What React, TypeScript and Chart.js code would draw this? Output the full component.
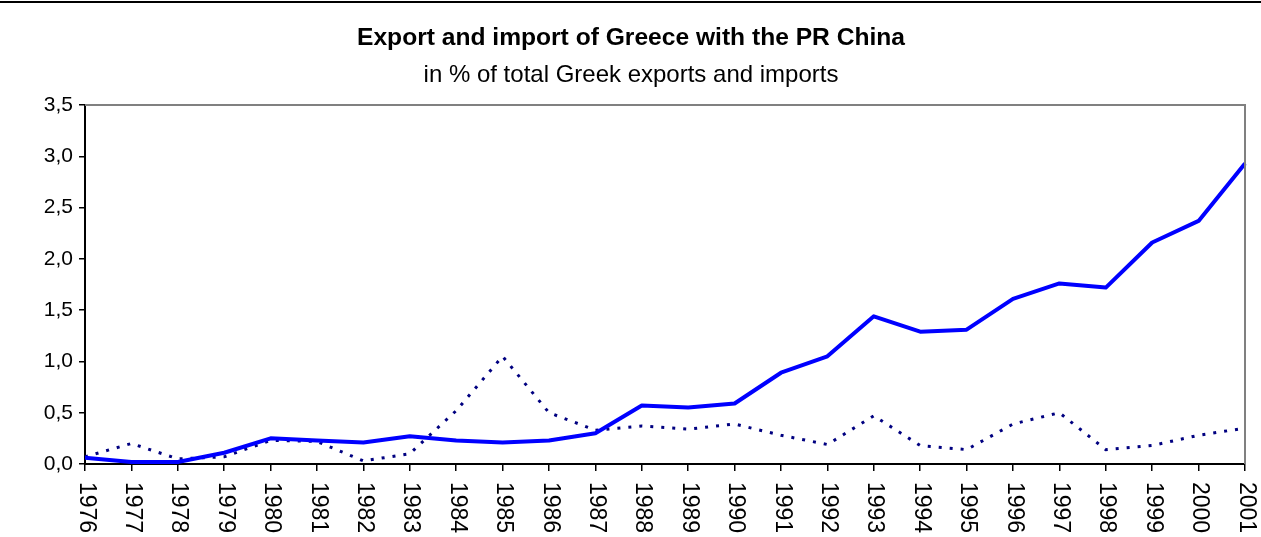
import React, { useEffect, useRef } from "react";
import { Chart, registerables } from "chart.js";

Chart.register(...registerables);

const TITLE = "Export and import of Greece with the PR China";
const SUBTITLE = "in % of total Greek exports and imports";

const YEARS = [
  "1976", "1977", "1978", "1979", "1980", "1981", "1982", "1983", "1984",
  "1985", "1986", "1987", "1988", "1989", "1990", "1991", "1992", "1993",
  "1994", "1995", "1996", "1997", "1998", "1999", "2000", "2001",
];

// Solid line (imports from PR China, % of total Greek imports)
const IMPORTS = [
  0.06, 0.02, 0.02, 0.11, 0.25, 0.23, 0.21, 0.27, 0.23, 0.21, 0.23, 0.3, 0.57,
  0.55, 0.59, 0.89, 1.05, 1.44, 1.29, 1.31, 1.61, 1.76, 1.72, 2.16, 2.37, 2.93,
];

// Dotted line (exports to PR China, % of total Greek exports)
const EXPORTS = [
  0.07, 0.2, 0.05, 0.07, 0.23, 0.22, 0.03, 0.1, 0.52, 1.05, 0.5, 0.33, 0.37,
  0.34, 0.39, 0.28, 0.19, 0.47, 0.18, 0.14, 0.39, 0.5, 0.14, 0.18, 0.28, 0.35,
];

const Y_MIN = 0;
const Y_MAX = 3.5;
const Y_STEP = 0.5;

const FONT = "'Liberation Sans', Arial, Helvetica, sans-serif";
const W = 1261;
const H = 537;

export default function App() {
  const ref = useRef<HTMLCanvasElement | null>(null);

  useEffect(() => {
    document.body.style.margin = "0";
    const canvas = ref.current;
    if (!canvas) return;

    const decor = {
      id: "decor",
      beforeDraw(chart: any) {
        const ctx = chart.ctx;
        ctx.save();
        ctx.fillStyle = "#ffffff";
        ctx.fillRect(0, 0, chart.width, chart.height);
        ctx.restore();
      },
      afterDraw(chart: any) {
        const { ctx, chartArea } = chart;
        ctx.save();
        // frame line at page top
        ctx.strokeStyle = "#000000";
        ctx.lineWidth = 2;
        ctx.beginPath();
        ctx.moveTo(0, 2);
        ctx.lineTo(chart.width, 2);
        ctx.stroke();

        // gray top and right plot border
        ctx.strokeStyle = "#808080";
        ctx.lineWidth = 2;
        ctx.beginPath();
        ctx.moveTo(chartArea.left, chartArea.top);
        ctx.lineTo(chartArea.right, chartArea.top);
        ctx.lineTo(chartArea.right, chartArea.bottom);
        ctx.stroke();

        // titles
        ctx.fillStyle = "#000000";
        ctx.textAlign = "center";
        ctx.textBaseline = "alphabetic";
        ctx.font = `bold 24.6px ${FONT}`;
        ctx.fillText(TITLE, 631, 45);
        ctx.font = `24px ${FONT}`;
        ctx.fillText(SUBTITLE, 631, 82);

        // x tick labels, rotated clockwise (reading top to bottom)
        const xs = chart.scales.x;
        ctx.font = `23px ${FONT}`;
        ctx.textAlign = "left";
        ctx.textBaseline = "middle";
        YEARS.forEach((label, i) => {
          const px = xs.getPixelForValue(i);
          ctx.save();
          ctx.translate(px + 1, chartArea.bottom + 18);
          ctx.rotate(Math.PI / 2);
          ctx.fillText(label, 0, 0);
          ctx.restore();
        });
        ctx.restore();
      },
    };

    const chart = new Chart(canvas, {
      type: "line",
      data: {
        labels: YEARS,
        datasets: [
          {
            label: "Imports",
            data: IMPORTS,
            borderColor: "#0000ff",
            backgroundColor: "#0000ff",
            borderWidth: 4,
            pointRadius: 0,
            tension: 0,
            fill: false,
            borderJoinStyle: "round",
          },
          {
            label: "Exports",
            data: EXPORTS,
            borderColor: "#000080",
            backgroundColor: "#000080",
            borderWidth: 3,
            borderDash: [3, 8],
            pointRadius: 0,
            tension: 0,
            fill: false,
          },
        ],
      },
      options: {
        animation: false,
        responsive: false,
        devicePixelRatio: 1,
        layout: { padding: { top: 105, right: 16, bottom: 0, left: 0 } },
        plugins: {
          legend: { display: false },
          tooltip: { enabled: false },
          title: { display: false },
        },
        scales: {
          x: {
            type: "category",
            offset: false,
            ticks: { display: false },
            grid: {
              drawOnChartArea: false,
              drawTicks: true,
              tickLength: 7,
              color: "#000000",
              lineWidth: 1.5,
            },
            border: { display: true, color: "#000000", width: 2 },
            afterFit: (s: any) => {
              s.height = 73;
            },
          },
          y: {
            min: Y_MIN,
            max: Y_MAX,
            ticks: {
              stepSize: Y_STEP,
              color: "#000000",
              padding: 6,
              font: { family: FONT, size: 21 },
              callback: (v: any) => Number(v).toFixed(1).replace(".", ","),
            },
            grid: {
              drawOnChartArea: false,
              drawTicks: true,
              tickLength: 6,
              color: "#000000",
              lineWidth: 1.5,
            },
            border: { display: true, color: "#000000", width: 2 },
            afterFit: (s: any) => {
              s.width = 85;
            },
          },
        },
      },
      plugins: [decor],
    } as any);

    return () => {
      chart.destroy();
    };
  }, []);

  return (
    <div style={{ width: W, height: H }}>
      <canvas ref={ref} width={W} height={H} style={{ display: "block" }} />
    </div>
  );
}
